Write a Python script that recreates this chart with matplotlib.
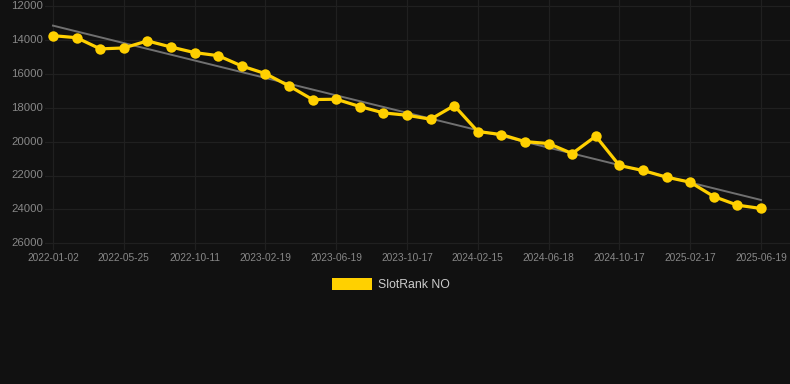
import numpy as np
import matplotlib
matplotlib.use("Agg")
import matplotlib.pyplot as plt
from matplotlib.patches import Rectangle

tick_labels = ["2022-01-02", "2022-05-25", "2022-10-11", "2023-02-19", "2023-06-19",
               "2023-10-17", "2024-02-15", "2024-06-18", "2024-10-17", "2025-02-17",
               "2025-06-19"]
ranks = [13750, 13870, 14530, 14475, 14060, 14420, 14750, 14930, 15540, 15990,
         16715, 17520, 17500, 17930, 18305, 18445, 18680, 17875, 19405, 19585,
         20000, 20115, 20705, 19680, 21410, 21705, 22100, 22395, 23240, 23750, 23945]
series_name = "SlotRank NO"
yticks = [12000, 14000, 16000, 18000, 20000, 22000, 24000, 26000]

W, H = 790, 384
fig = plt.figure(figsize=(W / 100, H / 100), dpi=100)
bg = "#111111"
fig.patch.set_facecolor(bg)

left, right, top, bottom = 45, 790, 0, 250
ax = fig.add_axes([left / W, 1 - bottom / H, (right - left) / W, (bottom - top) / H])
ax.set_facecolor(bg)

x = np.arange(len(ranks))
n = len(ranks) - 1
ppi = (761 - 53) / n
ax.set_xlim(-(53 - left) / ppi, n + (right - 761) / ppi)
ppk = (243.3 - 6) / 14.0
ax.set_ylim(26000 + (bottom - 243.3) / ppk * 1000, 12000 - (6 - top) / ppk * 1000)

grid_c = "#202020"
for yv in yticks:
    ax.axhline(yv, color=grid_c, lw=0.9, zorder=0)
tick_pos = list(range(0, len(ranks), 3))
for xv in tick_pos:
    ax.axvline(xv, color=grid_c, lw=0.9, zorder=0)

coef = np.polyfit(x, ranks, 1)
ax.plot(x, np.polyval(coef, x), color="#707070", lw=1.4, zorder=2)
ax.plot(x, ranks, color="#FFD000", lw=2.3, marker="o", markersize=7.5,
        markeredgewidth=0, zorder=3)

for s in ax.spines.values():
    s.set_visible(False)
ax.set_xticks([])
ax.set_yticks([])

tc = "#888888"
for yv in yticks:
    ax.text(-(53 - 43) / ppi, yv, f"{yv}", ha="right", va="center", fontsize=8.2,
            color=tc, clip_on=False, family="Liberation Sans")
for xv, lab in zip(tick_pos, tick_labels):
    fig.text((53 + xv * ppi) / W, 1 - 258 / H, lab, ha="center", va="center",
             fontsize=7.3, color=tc, family="Liberation Sans")

fig.patches.append(Rectangle((332 / W, 1 - 290 / H), 40 / W, 12 / H,
                             transform=fig.transFigure, facecolor="#FFD000",
                             edgecolor="none"))
fig.text(378 / W, 1 - 285 / H, series_name, ha="left", va="center", fontsize=8.8,
         color="#CCCCCC", family="Liberation Sans")

fig.savefig("out.png", dpi=100, facecolor=bg)
